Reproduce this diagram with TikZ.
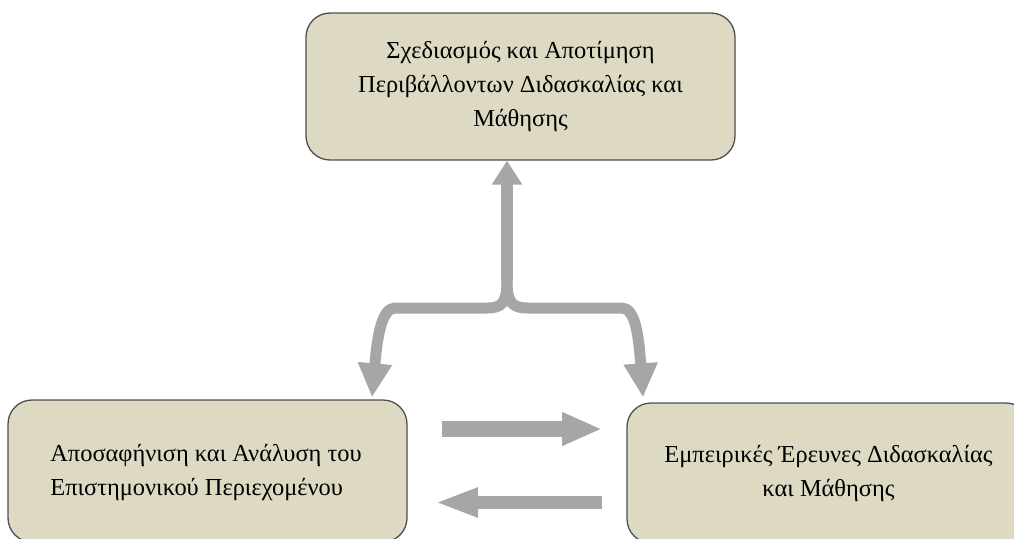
\documentclass[tikz,border=0pt]{standalone}
\usepackage{fontspec}
\setmainfont{Liberation Serif}
\usetikzlibrary{arrows.meta,calc}
\definecolor{boxfill}{HTML}{DDD9C3}
\definecolor{boxline}{HTML}{4F4F4F}
\definecolor{flow}{HTML}{A6A6A6}
\tikzset{
  label text/.style={font=\fontsize{24.4}{34}\selectfont},
  panel/.style={draw=boxline, line width=1.3pt, fill=boxfill, rounded corners=24pt,
    inner sep=0pt, label text},
  fork/.style={draw=flow, line width=12pt, line join=round,
    -{Triangle[length=34pt,width=32pt]}},
  stemtip/.style={-{Triangle[length=24pt,width=29pt]}},
  swap/.style={draw=flow, line width=16pt,
    -{Triangle[length=40pt,width=31pt]}}
}
\begin{document}
\begin{tikzpicture}[x=1pt,y=-1pt]
\useasboundingbox (0,0) rectangle (1014,538);
\clip (0,0) rectangle (1014,538);

% the three panels
\node[panel, minimum width=429pt, minimum height=147pt, align=center] (top) at (520.5,86.5)
  {Σχεδιασμός και Αποτίμηση\\Περιβάλλοντων Διδασκαλίας και\\Μάθησης};
\node[panel, minimum width=399pt, minimum height=142pt] (left) at (207.5,471) {};
\node[align=left, label text] (lefttext) at (206,472)
  {Αποσαφήνιση και Ανάλυση του\\Επιστημονικού Περιεχομένου};
\node[panel, minimum width=403pt, minimum height=140pt, align=center] (right) at (828.5,473)
  {Εμπειρικές Έρευνες Διδασκαλίας\\και Μάθησης};

% branching connector from the top panel to the two lower panels
\coordinate (split) at (507,280);
\draw[fork, stemtip] (split) -- (split |- top.south);
\draw[fork, line width=11pt] (split) .. controls (507,303) and (502,308) .. (487,308)
  -- (395,308) .. controls (381,308) and (377,340) .. ($(left.north)+(164.5,-2)$);
\draw[fork, line width=11pt] (split) .. controls (507,303) and (512,308) .. (528,308)
  -- (622,308) .. controls (636,308) and (639,340) .. ($(right.north)+(-185.5,-5)$);

% exchange between the two lower panels
\coordinate (fwdA) at (442,429);
\coordinate (fwdB) at (602,429);
\coordinate (backA) at (602,502.5);
\coordinate (backB) at (435,502.5);
\draw[swap] (fwdA) -- (fwdB);
\draw[swap, line width=13pt, -{Triangle[length=43pt,width=27pt]}] (backA) -- (backB);
\end{tikzpicture}
\end{document}
